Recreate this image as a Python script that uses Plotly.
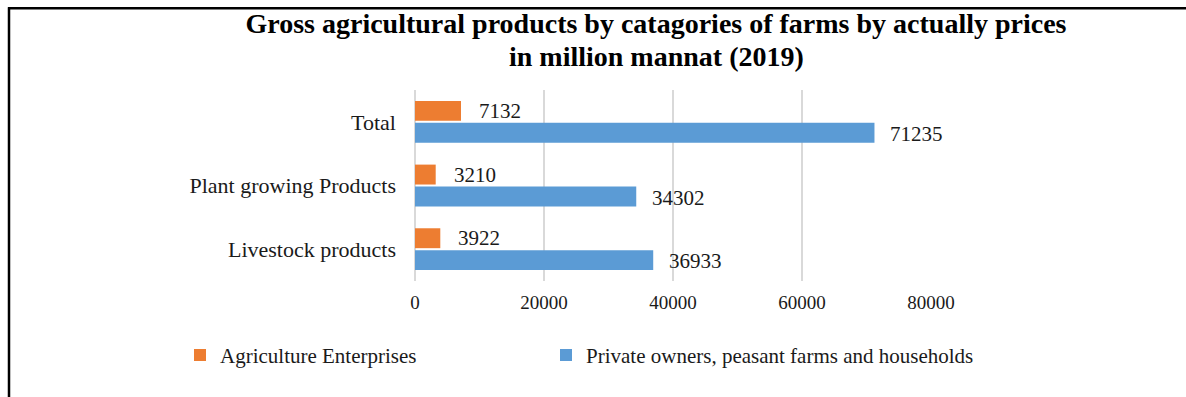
import plotly.graph_objects as go

# Data: gross agricultural products, million manat, 2019
categories = ["Total", "Plant growing Products", "Livestock products"]
enterprises = [7132, 3210, 3922]
private_farms = [71235, 34302, 36933]
series_names = ["Agriculture Enterprises", "Private owners, peasant farms and households"]
x_ticks = [0, 20000, 40000, 60000, 80000]

ORANGE = "#ED7D31"
BLUE = "#5B9BD5"
FONT = "Liberation Serif"
TEXT = "#1a1a1a"

W, H = 1186, 397
PL, PR, PT, PB = 415, 931, 90, 281.5  # plot area in pixels


def px_x(px):
    return (px - PL) / (PR - PL)


def px_y(py):
    return (PB - py) / (PB - PT)


fig = go.Figure()
fig.add_trace(go.Bar(
    y=categories, x=enterprises, orientation="h", name=series_names[0],
    marker=dict(color=ORANGE, line=dict(width=0)), legend="legend", showlegend=True,
))
fig.add_trace(go.Bar(
    y=categories, x=private_farms, orientation="h", name=series_names[1],
    marker=dict(color=BLUE, line=dict(width=0)), legend="legend2", showlegend=True,
))

# value labels right of each bar
annotations = []
for cat, v in zip(categories, enterprises):
    annotations.append(dict(x=v, y=cat, text=str(v), xanchor="left", yanchor="middle",
                            xshift=16, yshift=11, showarrow=False,
                            font=dict(family=FONT, size=21, color=TEXT)))
for cat, v in zip(categories, private_farms):
    annotations.append(dict(x=v, y=cat, text=str(v), xanchor="left", yanchor="middle",
                            xshift=14, yshift=-12, showarrow=False,
                            font=dict(family=FONT, size=21, color=TEXT)))

# second title line
annotations.append(dict(x=px_x(656), y=px_y(56), xref="paper", yref="paper",
                        text="<b>in million mannat (2019)</b>", showarrow=False,
                        xanchor="center", yanchor="middle",
                        font=dict(family=FONT, size=28, color="black")))

# frame lines (left and top)
shapes = [
    dict(type="line", xref="paper", yref="paper", x0=px_x(9), x1=px_x(9),
         y0=px_y(7), y1=px_y(400), line=dict(color="black", width=2.5)),
    dict(type="line", xref="paper", yref="paper", x0=px_x(8), x1=px_x(1190),
         y0=px_y(8), y1=px_y(8), line=dict(color="black", width=2.5)),
]

fig.update_layout(
    width=W, height=H,
    margin=dict(l=PL, r=W - PR, t=PT, b=H - PB),
    paper_bgcolor="white", plot_bgcolor="white",
    showlegend=True,
    title=dict(text="<b>Gross agricultural products by catagories of farms by actually prices</b>",
               x=656 / W, xanchor="center", y=1 - 23 / H, yanchor="middle",
               font=dict(family=FONT, size=28, color="black")),
    barmode="group", bargap=0.3125, bargroupgap=0.09,
    xaxis=dict(range=[0, 80000], tickvals=x_ticks, ticktext=[str(t) for t in x_ticks],
               showgrid=True, gridcolor="#d9d9d9", gridwidth=1.5,
               zeroline=True, zerolinecolor="#d9d9d9", zerolinewidth=1.5,
               showline=False, ticks="", ticklabelstandoff=8,
               tickfont=dict(family=FONT, size=19, color=TEXT)),
    yaxis=dict(autorange="reversed", showgrid=False, zeroline=False, showline=False,
               ticks="", ticklabelstandoff=18,
               tickfont=dict(family=FONT, size=22, color=TEXT)),
    legend=dict(x=px_x(180), y=px_y(356), xanchor="left", yanchor="middle",
                orientation="h", bgcolor="rgba(0,0,0,0)",
                font=dict(family=FONT, size=21, color=TEXT)),
    legend2=dict(x=px_x(546), y=px_y(356), xanchor="left", yanchor="middle",
                 orientation="h", bgcolor="rgba(0,0,0,0)",
                 font=dict(family=FONT, size=21, color=TEXT)),
    annotations=annotations,
    shapes=shapes,
)

fig.write_html("out.html")
